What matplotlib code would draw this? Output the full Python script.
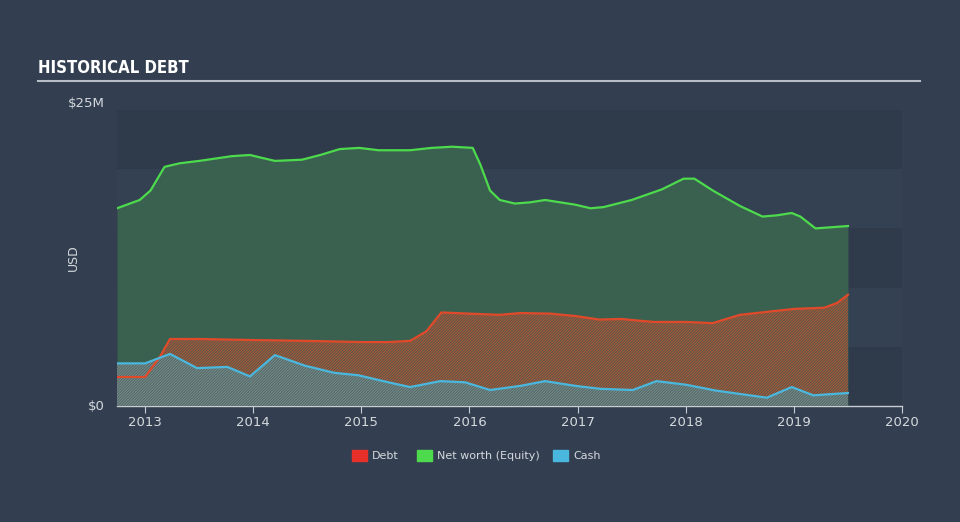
import matplotlib.pyplot as plt
import numpy as np

# data (year as decimal, values in $M)
nw_x = [2012.74, 2012.95, 2013.05, 2013.18, 2013.32, 2013.5, 2013.8, 2013.97, 2014.2, 2014.45,
        2014.62, 2014.8, 2014.98, 2015.16, 2015.45, 2015.65, 2015.84, 2016.03, 2016.1,
        2016.19, 2016.28, 2016.42, 2016.56, 2016.7, 2016.84, 2016.98, 2017.12, 2017.24,
        2017.5, 2017.78, 2017.98, 2018.08, 2018.25, 2018.5, 2018.71, 2018.84, 2018.98,
        2019.06, 2019.2, 2019.35, 2019.5]
nw_y = [16.7, 17.4, 18.2, 20.2, 20.5, 20.7, 21.1, 21.2, 20.7, 20.8, 21.2, 21.7, 21.8,
        21.6, 21.6, 21.8, 21.9, 21.8, 20.4, 18.2, 17.4, 17.1, 17.2, 17.4, 17.2, 17.0,
        16.7, 16.8, 17.4, 18.3, 19.2, 19.2, 18.2, 16.9, 16.0, 16.1, 16.3, 16.0, 15.0,
        15.1, 15.2]

debt_x = [2012.74, 2013.0, 2013.14, 2013.23, 2013.5, 2014.0, 2014.5, 2015.0, 2015.25,
          2015.45, 2015.6, 2015.74, 2016.0, 2016.28, 2016.47, 2016.75, 2016.98, 2017.2,
          2017.4, 2017.7, 2018.0, 2018.25, 2018.5, 2018.8, 2019.0, 2019.28, 2019.4, 2019.5]
debt_y = [2.45, 2.45, 4.2, 5.66, 5.66, 5.57, 5.5, 5.4, 5.4, 5.5, 6.3, 7.9, 7.8, 7.7,
          7.85, 7.8, 7.6, 7.3, 7.35, 7.1, 7.1, 7.0, 7.7, 8.0, 8.2, 8.3, 8.7, 9.4]

cash_x = [2012.74, 2013.0, 2013.23, 2013.48, 2013.76, 2013.97, 2014.2, 2014.48, 2014.75,
          2014.97, 2015.25, 2015.45, 2015.73, 2015.96, 2016.19, 2016.47, 2016.7, 2016.98,
          2017.21, 2017.51, 2017.73, 2018.0, 2018.28, 2018.75, 2018.98, 2019.18, 2019.5]
cash_y = [3.6, 3.6, 4.4, 3.2, 3.3, 2.5, 4.3, 3.4, 2.8, 2.6, 2.0, 1.6, 2.1, 2.0, 1.35,
          1.7, 2.1, 1.7, 1.45, 1.35, 2.1, 1.8, 1.3, 0.7, 1.6, 0.9, 1.1]

years = [2013, 2014, 2015, 2016, 2017, 2018, 2019, 2020]

bg = '#333f50'
plt.rcParams['hatch.linewidth'] = 0.5

fig = plt.figure(figsize=(9.6, 5.22), dpi=100)
fig.patch.set_facecolor(bg)
ax = fig.add_axes([117 / 960, 116 / 522, 785 / 960, 296 / 522])
ax.set_facecolor(bg)

x0, x1 = 2012.74, 2020.0
ax.set_xlim(x0, x1)
ax.set_ylim(0, 25)

# alternating background bands
for i in range(5):
    shade = '#2f3a4a' if i % 2 == 0 else '#334152'
    ax.axhspan(25 - 5 * (i + 1), 25 - 5 * i, color=shade, lw=0, zorder=0)

# net worth area
ax.fill_between(nw_x, 0, nw_y, color='#3a6150', lw=0, zorder=1)
ax.plot(nw_x, nw_y, color='#4ddb4d', lw=1.6, zorder=5)

# debt area (hatched)
ax.fill_between(debt_x, 0, debt_y, facecolor='#5b5a4b', edgecolor='#c9552f',
                hatch='////////////', lw=0, zorder=2)
ax.plot(debt_x, debt_y, color='#e04a2a', lw=1.6, zorder=5)

# cash area
cx = np.array(cash_x)
cy = np.array(cash_y)
dy = np.interp(cx, debt_x, debt_y)
ax.fill_between(cx, dy, cy, where=cy > dy, color='#2f6b68', lw=0, zorder=2,
                interpolate=True)
ax.fill_between(cx, 0, cy, facecolor='#566b69', edgecolor='#7f9694',
                hatch='////////////', lw=0, zorder=3)
ax.plot(cx, cy, color='#4ab8de', lw=1.6, zorder=5)

# axes styling
for s in ['top', 'right', 'left']:
    ax.spines[s].set_visible(False)
ax.spines['bottom'].set_color('#c8ccd2')
ax.spines['bottom'].set_linewidth(1)
ax.set_xticks(years)
ax.set_xticklabels([str(y) for y in years], color='#d5d9de', fontsize=9.5)
ax.tick_params(axis='x', length=5, color='#c8ccd2', pad=2)
ax.set_yticks([])
ax.text(-0.015, 25, '$25M', transform=ax.get_yaxis_transform(), ha='right', va='bottom',
        color='#d5d9de', fontsize=9.5)
ax.text(-0.015, 0, '$0', transform=ax.get_yaxis_transform(), ha='right', va='center',
        color='#d5d9de', fontsize=9.5)
fig.text(73 / 960, 1 - 258 / 522, 'USD', rotation=90, ha='center', va='center',
         color='#d5d9de', fontsize=9)

# title and rule
fig.text(38 / 960, 1 - 68 / 522, 'HISTORICAL DEBT', ha='left', va='center',
         color='white', fontsize=12, fontweight='bold', fontstretch='condensed',
         family='DejaVu Sans')
fig.add_artist(plt.Line2D([38 / 960, 920 / 960], [1 - 81 / 522, 1 - 81 / 522],
                          color='#b8bec6', lw=1.5))

# legend
items = [('Debt', '#e8302a', 352), ('Net worth (Equity)', '#4ddb4d', 417), ('Cash', '#4ab8de', 553)]
for label, col, px in items:
    fig.patches.append(plt.Rectangle((px / 960, 1 - 461 / 522), 15 / 960, 11 / 522,
                                     transform=fig.transFigure, color=col))
    fig.text((px + 20) / 960, 1 - 456 / 522, label, ha='left', va='center',
             color='#d5d9de', fontsize=8)

fig.savefig('out.png', dpi=100, facecolor=bg)
